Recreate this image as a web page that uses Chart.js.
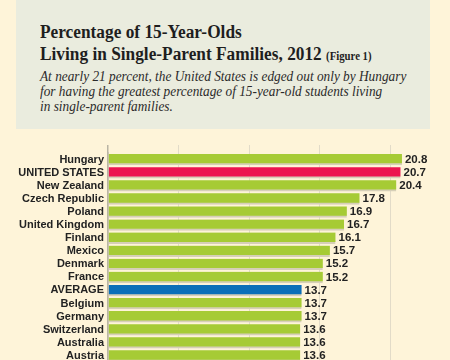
<!DOCTYPE html>
<html>
<head>
<meta charset="utf-8">
<script src="https://cdn.jsdelivr.net/npm/chart.js@4/dist/chart.umd.min.js"></script>
<style>
  html, body { margin: 0; padding: 0; width: 450px; height: 360px; overflow: hidden; background: #fef4d9; }
  #wrap { position: absolute; left: 0; top: 0; width: 450px; height: 373px; }
  #box { position: absolute; left: 16px; top: 0; width: 414px; height: 129px; background: #eaecde; }
  .t { position: absolute; left: 40px; font-family: "Liberation Serif", "DejaVu Serif", serif; font-weight: bold; color: #1e1e1e; font-size: 18.5px; white-space: nowrap; transform-origin: 0 0; transform: scaleX(0.935); }
  .fig { font-size: 11.5px; }
  .s { position: absolute; left: 40px; font-family: "Liberation Serif", "DejaVu Serif", serif; font-style: italic; color: #2a2a2a; font-size: 14px; white-space: nowrap; transform-origin: 0 0; transform: scaleX(0.95); }
</style>
</head>
<body>
<div id="wrap"><canvas id="c" width="450" height="373"></canvas></div>
<div id="box"></div>
<div class="t" style="top:22px">Percentage of 15-Year-Olds</div>
<div class="t" style="top:44px">Living in Single-Parent Families, 2012 <span class="fig">(Figure 1)</span></div>
<div class="s" style="top:69px">At nearly 21 percent, the United States is edged out only by Hungary</div>
<div class="s" style="top:84px">for having the greatest percentage of 15-year-old students living</div>
<div class="s" style="top:99px">in single-parent families.</div>
<script>
const categories = ["Hungary", "UNITED STATES", "New Zealand", "Czech Republic", "Poland", "United Kingdom", "Finland", "Mexico", "Denmark", "France", "AVERAGE", "Belgium", "Germany", "Switzerland", "Australia", "Austria"];
const values = [20.8, 20.7, 20.4, 17.8, 16.9, 16.7, 16.1, 15.7, 15.2, 15.2, 13.7, 13.7, 13.7, 13.6, 13.6, 13.6];
const gridTicks = [0, 5, 10, 15, 20];

const GREEN = "#a6cb35", RED = "#ec1550", BLUE = "#0b6fb8";
const colors = categories.map(c => c === "UNITED STATES" ? RED : (c === "AVERAGE" ? BLUE : GREEN));

const valueLabels = {
  id: "valueLabels",
  afterDatasetsDraw(chart) {
    const ctx = chart.ctx;
    const meta = chart.getDatasetMeta(0);
    ctx.save();
    ctx.font = "bold 11.5px 'Liberation Sans', Arial, sans-serif";
    ctx.fillStyle = "#222";
    ctx.textAlign = "left";
    ctx.textBaseline = "middle";
    meta.data.forEach((bar, i) => {
      ctx.fillText(values[i].toFixed(1), bar.x + 3, bar.y);
    });
    ctx.restore();
  }
};

new Chart(document.getElementById("c"), {
  type: "bar",
  data: {
    labels: categories,
    datasets: [{
      data: values,
      backgroundColor: colors,
      borderColor: "#d6cfb8",
      borderWidth: { top: 0, left: 0, right: 0, bottom: 2 },
      borderSkipped: false,
      barThickness: 11
    }]
  },
  options: {
    indexAxis: "y",
    responsive: false,
    animation: false,
    layout: { padding: { top: 145, left: 0, right: 0, bottom: 0 } },
    plugins: { legend: { display: false }, tooltip: { enabled: false } },
    scales: {
      x: {
        position: "top",
        min: 0,
        max: 24.2,
        afterBuildTicks(scale) { scale.ticks = gridTicks.map(v => ({ value: v })); },
        ticks: { display: false },
        border: { display: false },
        grid: {
          color: ctx => ctx.tick && ctx.tick.value === 0 ? "#b9b4a4" : "#e2dbc8",
          lineWidth: ctx => ctx.tick && ctx.tick.value === 0 ? 1.5 : 1,
          drawTicks: true,
          tickLength: 8
        }
      },
      y: {
        afterFit(scale) { scale.width = 108; },
        grid: { display: false, drawTicks: false, tickLength: 0 },
        border: { display: true, color: "#b9b4a4", width: 1.5 },
        ticks: {
          autoSkip: false,
          color: "#222",
          padding: 4,
          font: { family: "'Liberation Sans', Arial, sans-serif", weight: "bold", size: 11 }
        }
      }
    }
  },
  plugins: [valueLabels]
});
</script>
</body>
</html>
